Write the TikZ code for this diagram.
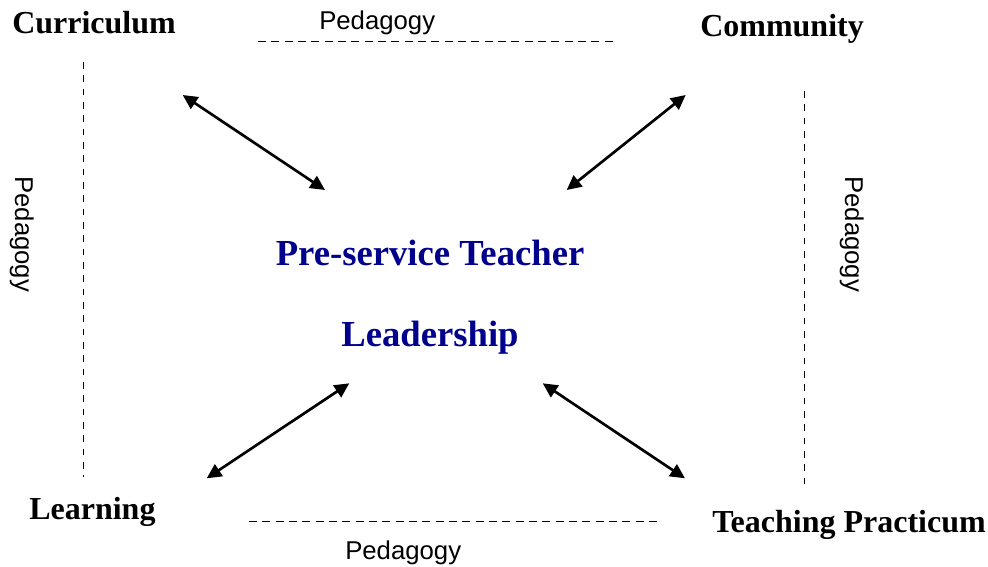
\documentclass[tikz,border=0pt]{standalone}
\usepackage{fontspec}
\setmainfont{Liberation Serif}
\newfontfamily\pedfont{Liberation Sans}
\usepackage{xcolor}
\usetikzlibrary{arrows.meta}
\definecolor{leadblue}{RGB}{0,0,140}

\begin{document}
\begin{tikzpicture}[x=0.75pt, y=-0.75pt, line join=miter]
  % ===== khung =====
  \useasboundingbox (0,0) rectangle (988,567);

  % ===== styles =====
  \tikzset{
    corner/.style={font=\fontsize{24}{28}\selectfont\bfseries, inner sep=0pt, anchor=base west},
    ped/.style={font=\pedfont\fontsize{19.3}{23}\selectfont, inner sep=0pt, anchor=base west},
    centre/.style={font=\fontsize{27.5}{32}\selectfont\bfseries, text=leadblue, inner sep=0pt, anchor=base},
    pedline/.style={line width=1.1pt, dash pattern=on 6pt off 4pt},
    pedvline/.style={line width=1pt, dash pattern=on 5pt off 5pt},
    link/.style={line width=2pt, {Triangle[length=11pt,width=10.5pt]}-{Triangle[length=11pt,width=10.5pt]}}
  }

  % ===== four corners + centre =====
  \node[corner] (curr) at (12,34) {Curriculum};
  \node[corner] (comm) at (700,37) {Community};
  \node[corner] (learn) at (29,519) {Learning};
  \node[corner] (prac) at (712,532.5) {Teaching Practicum};
  \node[centre] (lead1) at (430,265) {Pre-service Teacher};
  \node[centre] (lead2) at (430,346) {Leadership};

  % ===== pedagogy labels =====
  \node[ped] (pedtop) at (319,30) {Pedagogy};
  \node[ped] (pedbot) at (345,559) {Pedagogy};
  \node[ped, rotate=-90] (pedleft) at (15,176) {Pedagogy};
  \node[ped, rotate=-90] (pedright) at (845,176) {Pedagogy};

  % ===== dashed pedagogy lines =====
  \coordinate (top-a) at (258,41.5);   \coordinate (top-b) at (616,41.5);
  \coordinate (bot-a) at (249,521.5);  \coordinate (bot-b) at (660,521.5);
  \coordinate (lft-a) at (83.5,62);    \coordinate (lft-b) at (83.5,477);
  \coordinate (rgt-a) at (804.5,91);   \coordinate (rgt-b) at (804.5,486);
  \draw[pedline] (top-a) -- (top-b);
  \draw[pedline] (bot-a) -- (bot-b);
  \draw[pedvline] (lft-a) -- (lft-b);
  \draw[pedvline] (rgt-a) -- (rgt-b);

  % ===== double arrows =====
  \coordinate (curr-end) at (182.7,95);   \coordinate (curr-mid) at (325,190);
  \coordinate (comm-end) at (685.7,95);   \coordinate (comm-mid) at (566.7,190);
  \coordinate (learn-end) at (206.7,478.3); \coordinate (learn-mid) at (349.3,383.3);
  \coordinate (prac-end) at (685,478.3);  \coordinate (prac-mid) at (542.7,383.3);
  \draw[link] (curr-end) -- (curr-mid);
  \draw[link] (comm-end) -- (comm-mid);
  \draw[link] (learn-end) -- (learn-mid);
  \draw[link] (prac-mid) -- (prac-end);
\end{tikzpicture}
\end{document}
